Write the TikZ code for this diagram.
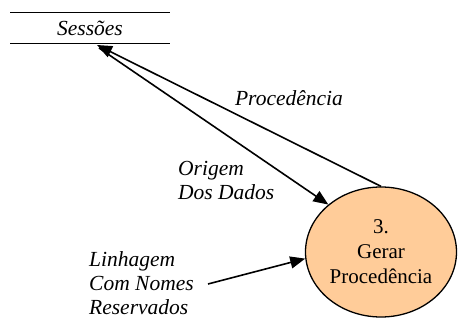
\documentclass[tikz,border=0pt]{standalone}
\usepackage{fontspec}
\setmainfont{Liberation Serif}
\usetikzlibrary{shapes.geometric,arrows.meta}
\definecolor{peach}{HTML}{FFCC99}
\begin{document}
\begin{tikzpicture}[x=1pt,y=-1pt,
  lbl/.style={font=\fontsize{21.5}{24}\selectfont\itshape, align=left, inner sep=0pt},
  flow/.style={line width=1.6pt, -{Triangle[length=15pt,width=12pt]}},
  procnode/.style={ellipse, draw, line width=1.3pt, fill=peach, minimum width=151pt, minimum height=130pt, inner sep=0pt, align=center, font=\fontsize{21}{25}\selectfont}]
\useasboundingbox (0,0) rectangle (461,320);
% data store
\coordinate (stl) at (10,13);
\coordinate (str) at (170,13);
\coordinate (sbl) at (10,44);
\coordinate (sbr) at (170,44);
\draw[line width=1pt] (stl) -- (str);
\draw[line width=1pt] (sbl) -- (sbr);
\node[lbl] (store) at (90,28.5) {Sessões};
\coordinate (sA) at (97,45);
\coordinate (sB) at (99,48);
% process
\node[procnode] (proc) at (381,252) {3.\\Gerar\\Procedência};
% flows
\draw[flow] (proc.north) -- (sA);
\draw[flow] (sB) -- (proc.138);
\coordinate (lstart) at (208,284);
\draw[flow] (lstart) -- (proc.185);
% labels
\node[lbl] (lproc) at (289,98) {Procedência};
\node[lbl, anchor=west] (lorig) at (178,180) {Origem\\Dos Dados};
\node[lbl, anchor=west] (llin) at (89,283) {Linhagem\\Com Nomes\\Reservados};
\end{tikzpicture}
\end{document}
